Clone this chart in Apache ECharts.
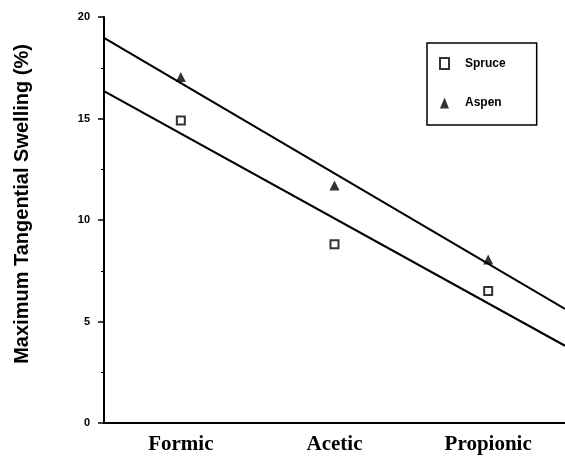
<!DOCTYPE html>
<html>
<head>
<meta charset="utf-8">
<script src="https://cdn.jsdelivr.net/npm/echarts@6/dist/echarts.min.js"></script>
<style>
html,body{margin:0;padding:0;background:#fff;}
#c{width:565px;height:457px;}
</style>
</head>
<body>
<div id="c"></div>
<script>
// Data
var categories = ['Formic', 'Acetic', 'Propionic'];
var spruce = [14.9, 8.8, 6.5];
var aspen = [17.05, 11.7, 8.05];
// Fitted lines: values at the left and right plot edges
var fitX = [0, 3];
var spruceFit = [16.35, 3.8];
var aspenFit = [18.97, 5.62];
var yTicks = [0, 5, 10, 15, 20];

var chart = echarts.init(document.getElementById('c'));
var sansBold = {fontFamily: 'Liberation Sans, Arial, sans-serif', fontWeight: 'bold', color: '#000'};

chart.setOption({
  animation: false,
  backgroundColor: '#fff',
  grid: {left: 104, right: 0, top: 17, bottom: 34, containLabel: false, outerBoundsMode: 'none'},
  legend: {
    orient: 'vertical',
    left: 427, top: 43,
    data: ['Spruce', 'Aspen'],
    borderColor: '#000', borderWidth: 1.5,
    padding: [14, 31, 16, 12],
    itemGap: 27, itemWidth: 9, itemHeight: 11,
    textStyle: Object.assign({fontSize: 12, padding: [0, 0, 0, 11]}, sansBold)
  },
  xAxis: [{
    type: 'category',
    data: categories,
    boundaryGap: true,
    axisLine: {lineStyle: {color: '#000', width: 2}},
    axisTick: {alignWithLabel: true, length: 5, lineStyle: {color: '#000', width: 1.5}},
    axisLabel: {margin: 11, fontSize: 21, fontWeight: 'bold', fontFamily: 'Liberation Serif, Times New Roman, serif', color: '#000'}
  }, {
    type: 'value', min: fitX[0], max: fitX[1], show: false
  }],
  yAxis: {
    type: 'value', min: yTicks[0], max: yTicks[yTicks.length - 1], interval: 5,
    name: 'Maximum Tangential Swelling (%)',
    nameLocation: 'middle', nameGap: 72,
    nameTextStyle: {fontSize: 20, fontWeight: 'bold', color: '#000',
      fontFamily: 'Liberation Sans, Arial, sans-serif',
      padding: [0, 0, 0, 32]},
    axisLine: {show: true, lineStyle: {color: '#000', width: 2}},
    axisTick: {show: true, length: 6, lineStyle: {color: '#000', width: 1.5}},
    minorTick: {show: true, splitNumber: 2, length: 3, lineStyle: {color: '#000', width: 1}},
    splitLine: {show: false},
    axisLabel: Object.assign({fontSize: 11, margin: 14}, sansBold)
  },
  series: [{
    name: 'Spruce fit', type: 'line', xAxisIndex: 1,
    data: fitX.map(function (x, i) { return [x, spruceFit[i]]; }),
    symbol: 'none', lineStyle: {color: '#000', width: 2.2}, silent: true
  }, {
    name: 'Aspen fit', type: 'line', xAxisIndex: 1,
    data: fitX.map(function (x, i) { return [x, aspenFit[i]]; }),
    symbol: 'none', lineStyle: {color: '#000', width: 2.2}, silent: true
  }, {
    name: 'Spruce', type: 'scatter', xAxisIndex: 0,
    data: spruce, symbol: 'rect', symbolSize: 8,
    itemStyle: {color: '#fff', borderColor: '#000', borderWidth: 2}
  }, {
    name: 'Aspen', type: 'scatter', xAxisIndex: 0,
    data: aspen, symbol: 'triangle', symbolSize: [10, 10],
    itemStyle: {color: '#000'}
  }]
});
</script>
</body>
</html>
